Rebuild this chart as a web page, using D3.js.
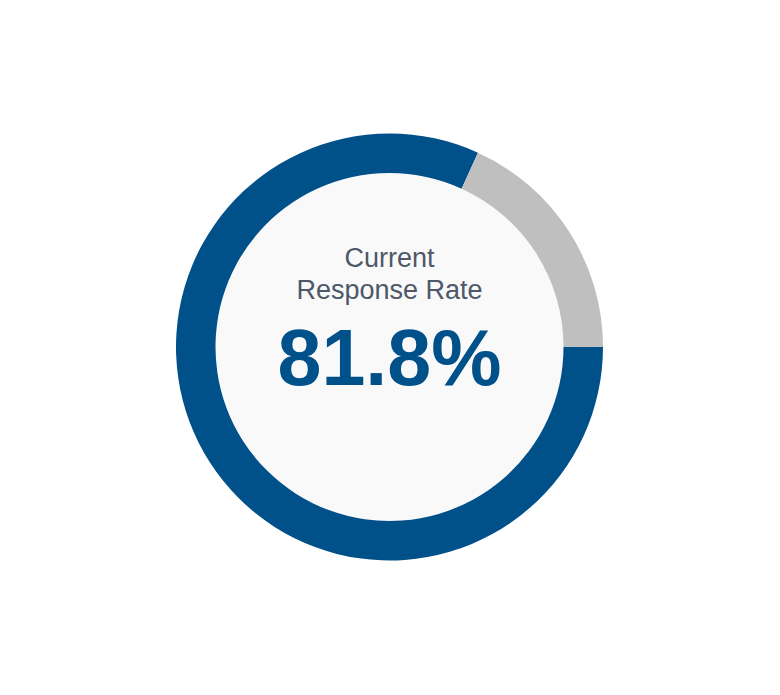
<!DOCTYPE html>
<html><head><meta charset="utf-8">
<script src="https://cdn.jsdelivr.net/npm/d3@7"></script>
<style>html,body{margin:0;padding:0;background:#fff;}</style>
</head><body>
<svg id="chart" width="780" height="695"></svg>
<script>
const categories = ["Responded", "Not responded"];
const values = [81.8, 18.2];
const colors = ["#00508a", "#bfbfbf"];
const labelLines = ["Current", "Response Rate"];
const valueLabel = "81.8%";

const svg = d3.select("#chart");
const cx = 389.5, cy = 347, rOuter = 213.5, rInner = 174;
const g = svg.append("g").attr("transform", `translate(${cx},${cy})`);

g.append("circle").attr("r", rInner).attr("fill", "#f9f9f9");

const pie = d3.pie().sort(null).value(d => d)
  .startAngle(Math.PI / 2).endAngle(Math.PI / 2 + 2 * Math.PI);
const arc = d3.arc().innerRadius(rInner).outerRadius(rOuter);

g.selectAll("path.slice").data(pie(values)).join("path")
  .attr("class", "slice")
  .attr("d", arc)
  .attr("fill", (d, i) => colors[i]);

g.selectAll("text.lbl").data(labelLines).join("text")
  .attr("class", "lbl")
  .attr("x", 0)
  .attr("y", (d, i) => -80 + i * 32)
  .attr("text-anchor", "middle")
  .attr("font-family", "Liberation Sans, Arial, sans-serif")
  .attr("font-size", 27)
  .attr("fill", "#4e5869")
  .text(d => d);

g.append("text")
  .attr("x", 0).attr("y", 38)
  .attr("text-anchor", "middle")
  .attr("font-family", "Liberation Sans, Arial, sans-serif")
  .attr("font-weight", "bold")
  .attr("font-size", 79)
  .attr("fill", "#00508a")
  .text(valueLabel);
</script>
</body></html>
